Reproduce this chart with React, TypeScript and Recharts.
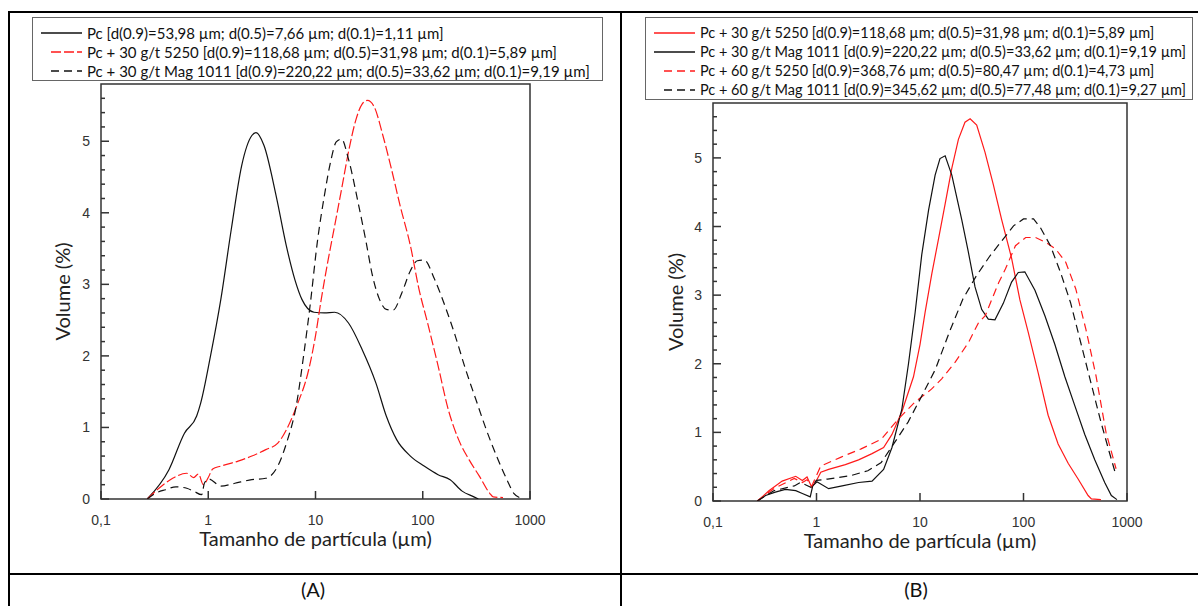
import { LineChart, Line, XAxis, YAxis, ReferenceArea, Legend, Label } from 'recharts';

// particle size (µm) / volume (%)
const pcSize = [0.27, 0.43, 0.6, 0.78, 0.85, 1.05, 1.31, 1.64, 2.05, 2.55, 2.79, 3.31, 4.29, 5.36, 6.44, 7.47, 9.68, 12.1, 15.1, 20.3, 27.2, 36.6, 45.7, 57.1, 76.7, 103, 139, 180, 233, 300, 330];
const pcVol = [0, 0.41, 0.92, 1.16, 1.34, 2.0, 2.79, 3.77, 4.66, 5.08, 5.12, 4.94, 4.24, 3.53, 3.06, 2.79, 2.61, 2.6, 2.61, 2.46, 2.09, 1.62, 1.16, 0.83, 0.6, 0.46, 0.34, 0.27, 0.11, 0.03, 0];

const s5250Size = [0.27, 0.347, 0.466, 0.63, 0.73, 0.81, 0.9, 1.0, 1.1, 1.31, 1.9, 2.55, 3.44, 4.45, 5.36, 6.68, 8.65, 10, 11.2, 13, 15.1, 17.5, 20.3, 23.5, 27.2, 30.5, 35.3, 42.5, 51.1, 61.5, 76.7, 92.3, 111, 139, 173, 216, 270, 337, 421, 453, 560];
const s5250Vol = [0, 0.15, 0.29, 0.36, 0.3, 0.35, 0.2, 0.3, 0.42, 0.46, 0.53, 0.6, 0.69, 0.78, 0.97, 1.3, 1.81, 2.28, 2.75, 3.31, 3.82, 4.33, 4.85, 5.27, 5.52, 5.57, 5.48, 5.08, 4.61, 4.1, 3.54, 2.93, 2.46, 1.86, 1.25, 0.83, 0.55, 0.32, 0.08, 0.03, 0.02];

const mag30Size = [0.27, 0.322, 0.4, 0.5, 0.63, 0.73, 0.87, 0.92, 1.01, 1.31, 1.77, 2.55, 3.44, 4.45, 5.36, 6.68, 7.74, 8.98, 10.4, 12.1, 14, 15.6, 17.5, 20.3, 25.3, 29.3, 34, 39.5, 45.7, 53, 63.8, 76.7, 89, 103, 129, 161, 201, 251, 313, 391, 488, 609, 706, 800];
const mag30Vol = [0, 0.08, 0.13, 0.17, 0.15, 0.11, 0.06, 0.22, 0.28, 0.18, 0.22, 0.27, 0.29, 0.46, 0.78, 1.34, 2.0, 2.75, 3.59, 4.24, 4.75, 4.99, 5.03, 4.75, 4.1, 3.63, 3.12, 2.79, 2.65, 2.64, 2.88, 3.19, 3.33, 3.34, 3.07, 2.7, 2.28, 1.81, 1.39, 0.97, 0.6, 0.27, 0.08, 0.02];

const s5250x60Size = [0.267, 0.387, 0.61, 0.73, 0.81, 0.9, 1.1, 1.73, 2.7, 4.22, 6.14, 8.9, 12.9, 16.2, 21.8, 29.4, 36.8, 42.7, 49.5, 57.5, 66.8, 83.6, 105, 131, 164, 205, 256, 320, 401, 501, 627, 784];
const s5250x60Vol = [0, 0.18, 0.33, 0.27, 0.31, 0.22, 0.51, 0.64, 0.76, 0.9, 1.19, 1.44, 1.63, 1.78, 2.02, 2.31, 2.6, 2.7, 2.94, 3.18, 3.38, 3.72, 3.84, 3.84, 3.77, 3.67, 3.48, 3.09, 2.5, 1.83, 1.0, 0.47];

const mag60Size = [0.267, 0.387, 0.61, 0.7, 0.88, 1.0, 1.28, 2.14, 3.13, 4.22, 5.67, 7.67, 10.4, 14.1, 19.2, 25.9, 35, 47.3, 63.9, 80.1, 100, 125, 145, 182, 228, 285, 357, 447, 560, 675, 784];
const mag60Vol = [0, 0.15, 0.22, 0.27, 0.2, 0.3, 0.32, 0.37, 0.44, 0.56, 0.85, 1.15, 1.53, 1.92, 2.46, 2.94, 3.28, 3.57, 3.82, 4.01, 4.11, 4.11, 3.99, 3.72, 3.33, 2.89, 2.31, 1.73, 1.15, 0.71, 0.37];

const xTicks = [0.1, 1, 10, 100, 1000];
const yTicks = [0, 0.2, 0.4, 0.6, 0.8, 1, 1.2, 1.4, 1.6, 1.8, 2, 2.2, 2.4, 2.6, 2.8, 3, 3.2, 3.4, 3.6, 3.8, 4, 4.2, 4.4, 4.6, 4.8, 5, 5.2, 5.4, 5.6];

const labelPc = 'Pc [d(0.9)=53,98 µm; d(0.5)=7,66 µm; d(0.1)=1,11 µm]';
const label5250 = 'Pc + 30 g/t 5250 [d(0.9)=118,68 µm; d(0.5)=31,98 µm; d(0.1)=5,89 µm]';
const labelMag30 = 'Pc + 30 g/t Mag 1011 [d(0.9)=220,22 µm; d(0.5)=33,62 µm; d(0.1)=9,19 µm]';
const label5250x60 = 'Pc + 60 g/t 5250 [d(0.9)=368,76 µm; d(0.5)=80,47 µm; d(0.1)=4,73 µm]';
const labelMag60 = 'Pc + 60 g/t Mag 1011 [d(0.9)=345,62 µm; d(0.5)=77,48 µm; d(0.1)=9,27 µm]';

const pts = (xs: number[], ys: number[]) => xs.map((x, i) => ({ x, y: ys[i] }));

const RED = '#ff1a1a';
const BLACK = '#111';
const TEXT = "Lato, 'Open Sans', sans-serif";

type Series = { name: string; data: { x: number; y: number }[]; color: string; dash?: string };

const seriesA: Series[] = [
  { name: labelPc, data: pts(pcSize, pcVol), color: BLACK },
  { name: label5250, data: pts(s5250Size, s5250Vol), color: RED, dash: '10 3' },
  { name: labelMag30, data: pts(mag30Size, mag30Vol), color: BLACK, dash: '8 5' },
];

const seriesB: Series[] = [
  { name: label5250, data: pts(s5250Size, s5250Vol), color: RED },
  { name: labelMag30, data: pts(mag30Size, mag30Vol), color: BLACK },
  { name: label5250x60, data: pts(s5250x60Size, s5250x60Vol), color: RED, dash: '8 5' },
  { name: labelMag60, data: pts(mag60Size, mag60Vol), color: BLACK, dash: '8 5' },
];

const XTick = (props: any) => {
  const { x, y, payload } = props;
  const v = payload.value;
  return (
    <g>
      <line x1={x} x2={x} y1={y} y2={y - 8} stroke="#333" strokeWidth={1.5} />
      <text x={x} y={y + 26} textAnchor="middle" fontSize={14} fontFamily="'Liberation Sans', Arial" fill="#333">
        {v === 0.1 ? '0,1' : String(v)}
      </text>
    </g>
  );
};

const YTick = (props: any) => {
  const { x, y, payload } = props;
  const v = payload.value;
  const major = Math.abs(v - Math.round(v)) < 1e-6;
  return (
    <g>
      <line x1={x} x2={x + (major ? 8 : 4)} y1={y} y2={y} stroke="#333" strokeWidth={1.5} />
      {major && (
        <text x={x - 11} y={y + 5} textAnchor="end" fontSize={14} fontFamily="'Liberation Sans', Arial" fill="#333">
          {v}
        </text>
      )}
    </g>
  );
};

function LegendBox({ series, fontSize, sample }: { series: Series[]; fontSize: number; sample: number }) {
  return (
    <div style={{ border: '1.5px solid #666', background: '#fff', boxSizing: 'border-box', padding: '5px 0 0 8px' }}>
      {series.map((s) => (
        <div key={s.name + s.color + (s.dash || '')} style={{ display: 'flex', alignItems: 'center', height: 19 }}>
          <svg width={sample} height={10} style={{ marginRight: 5, flex: 'none' }}>
            {s.dash ? (
              <line x1={10} x2={sample} y1={5} y2={5} stroke={s.color} strokeWidth={1.3} strokeDasharray={s.dash} />
            ) : (
              <line x1={0} x2={sample} y1={5} y2={5} stroke={s.color} strokeWidth={1.3} />
            )}
          </svg>
          <span style={{ fontFamily: TEXT, fontSize, color: '#111', whiteSpace: 'nowrap' }}>{s.name}</span>
        </div>
      ))}
    </div>
  );
}

function Panel({
  series,
  width,
  margin,
  yAxisWidth,
  yTitleX,
  legendPos,
  legendFont,
  curve,
}: {
  series: Series[];
  width: number;
  margin: { top: number; right: number; bottom: number; left: number };
  yAxisWidth: number;
  yTitleX: number;
  legendPos: { top: number; left: number; width: number; height: number };
  legendFont: number;
  curve: 'monotone' | 'linear';
}) {
  return (
    <LineChart width={width} height={575} margin={margin}>
      <XAxis
        type="number"
        dataKey="x"
        scale="log"
        domain={[0.1, 1000]}
        ticks={xTicks}
        allowDataOverflow
        interval={0}
        height={60}
        tickSize={0}
        tickMargin={0}
        tickLine={false}
        axisLine={false}
        tick={<XTick />}
      >
        <Label
          content={(p: any) => {
            const vb = p.viewBox;
            return (
              <text x={vb.x + vb.width / 2} y={vb.y + 47} textAnchor="middle" fontFamily={TEXT} fontSize={20} fill="#222">
                Tamanho de partícula (µm)
              </text>
            );
          }}
        />
      </XAxis>
      <YAxis
        type="number"
        domain={[0, 5.8]}
        ticks={yTicks}
        interval={0}
        width={yAxisWidth}
        tickSize={0}
        tickMargin={0}
        tickLine={false}
        axisLine={false}
        tick={<YTick />}
        allowDataOverflow
      >
        <Label
          content={(p: any) => {
            const vb = p.viewBox;
            const cx = vb.x + yTitleX;
            const cy = vb.y + vb.height / 2;
            return (
              <text x={cx} y={cy} transform={`rotate(-90 ${cx} ${cy})`} textAnchor="middle" dominantBaseline="central" fontFamily={TEXT} fontSize={20} fill="#222">
                Volume (%)
              </text>
            );
          }}
        />
      </YAxis>
      <ReferenceArea x1={0.1} x2={1000} y1={0} y2={5.8} fill="none" stroke="#333" strokeWidth={1.5} ifOverflow="visible" />
      {series.map((s, i) => (
        <Line
          key={i}
          data={s.data}
          dataKey="y"
          type={curve}
          stroke={s.color}
          strokeWidth={1.2}
          strokeDasharray={s.dash}
          dot={false}
          activeDot={false}
          isAnimationActive={false}
          legendType="none"
        />
      ))}
      <Legend
        layout="vertical"
        align="center"
        verticalAlign="middle"
        wrapperStyle={{ top: legendPos.top, left: legendPos.left, width: legendPos.width, height: legendPos.height }}
        content={() => <LegendBox series={series} fontSize={legendFont} sample={41} />}
      />
    </LineChart>
  );
}

export default function App() {
  return (
    <div style={{ position: 'absolute', left: 0, top: 0, width: 1198, height: 606, background: '#fff', overflow: 'hidden' }}>
      {/* table borders */}
      <div style={{ position: 'absolute', left: 8, top: 11, width: 1190, height: 2, background: '#000' }} />
      <div style={{ position: 'absolute', left: 8, top: 11, width: 2, height: 595, background: '#000' }} />
      <div style={{ position: 'absolute', left: 620, top: 11, width: 2, height: 595, background: '#000' }} />
      <div style={{ position: 'absolute', left: 8, top: 573, width: 1190, height: 2, background: '#000' }} />

      <div style={{ position: 'absolute', left: 0, top: 0 }}>
        <Panel
          series={seriesA}
          width={620}
          margin={{ top: 84, right: 90, bottom: 16, left: 0 }}
          yAxisWidth={101}
          yTitleX={62}
          legendPos={{ top: 17, left: 32, width: 571, height: 71 }}
          legendFont={15}
          curve="monotone"
        />
      </div>
      <div style={{ position: 'absolute', left: 620, top: 0 }}>
        <Panel
          series={seriesB}
          width={578}
          margin={{ top: 103, right: 71, bottom: 14, left: 0 }}
          yAxisWidth={93}
          yTitleX={55}
          legendPos={{ top: 17, left: 25, width: 548, height: 87 }}
          legendFont={14.5}
          curve="linear"
        />
      </div>

      <div style={{ position: 'absolute', left: 263, top: 577, width: 100, textAlign: 'center', fontFamily: TEXT, fontSize: 20, color: '#111' }}>(A)</div>
      <div style={{ position: 'absolute', left: 866, top: 577, width: 100, textAlign: 'center', fontFamily: TEXT, fontSize: 20, color: '#111' }}>(B)</div>
    </div>
  );
}
